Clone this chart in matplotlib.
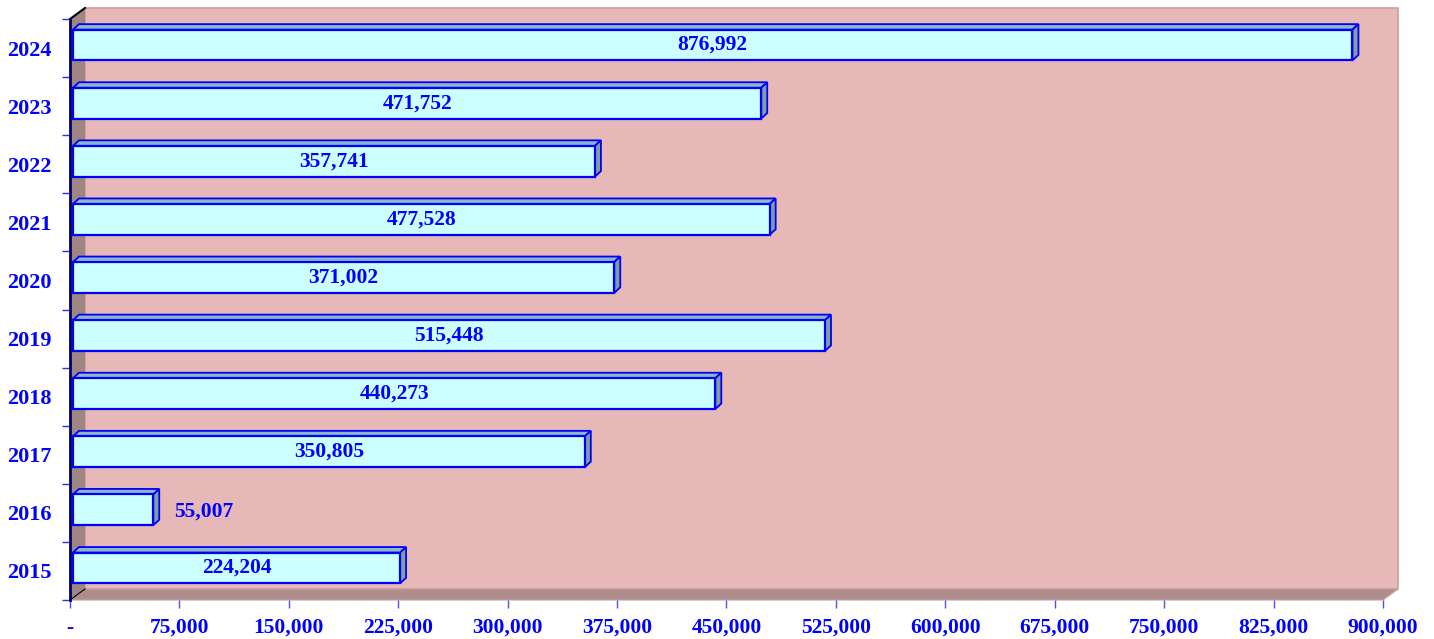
import matplotlib
matplotlib.use("Agg")
import matplotlib.pyplot as plt
from matplotlib.patches import Polygon

years = ["2015", "2016", "2017", "2018", "2019", "2020", "2021", "2022", "2023", "2024"]
values = [224204, 55007, 350805, 440273, 515448, 371002, 477528, 357741, 471752, 876992]
x_ticks = [0, 75000, 150000, 225000, 300000, 375000, 450000, 525000, 600000,
           675000, 750000, 825000, 900000]

W, H = 1434, 639
fig = plt.figure(figsize=(W / 100, H / 100), dpi=100)
ax_l, ax_b, ax_w, ax_h = 70, 39, 1313, 581
ax = fig.add_axes([ax_l / W, ax_b / H, ax_w / W, ax_h / H])
XMAX = x_ticks[-1]
n = len(years)
ax.set_xlim(0, XMAX)
ax.set_ylim(-0.5, n - 0.5)

px_x = XMAX / ax_w      # data units per pixel in x
px_y = n / ax_h         # data units per pixel in y

# walls
wdx, wdy = 15 * px_x, 11 * px_y
back = Polygon([(wdx, -0.5 + wdy), (XMAX + wdx, -0.5 + wdy), (XMAX + wdx, n - 0.5 + wdy),
                (wdx, n - 0.5 + wdy)], closed=True, facecolor="#E6B8B7",
               edgecolor="#D49C9B", lw=1.2, clip_on=False, zorder=0.5)
floor = Polygon([(0, -0.5), (XMAX, -0.5), (XMAX + wdx, -0.5 + wdy), (wdx, -0.5 + wdy)],
                closed=True, facecolor="#AF8D8C", edgecolor="#C9A09F", lw=0.8,
                clip_on=False, zorder=0.6)
left = Polygon([(0, -0.5), (0, n - 0.5), (wdx, n - 0.5 + wdy), (wdx, -0.5 + wdy)],
               closed=True, facecolor="#A08585", edgecolor="none", clip_on=False, zorder=0.6)
for p in (back, floor, left):
    ax.add_patch(p)
ax.plot([0, wdx], [n - 0.5, n - 0.5 + wdy], color="black", lw=1.5, clip_on=False, zorder=0.7)
ax.plot([0, wdx], [-0.5, -0.5 + wdy], color="black", lw=0.8, clip_on=False, zorder=0.7)

# bars
sx, sy = 3 * px_x, 3 * px_y
bdx, bdy = 6 * px_x, 5.5 * px_y
bh = 0.53
ys = list(range(n))
for i, v in enumerate(values):
    yc = ys[i] + sy
    yb, yt = yc - bh / 2, yc + bh / 2
    x0, x1 = sx, sx + v
    top = Polygon([(x0, yt), (x1, yt), (x1 + bdx, yt + bdy), (x0 + bdx, yt + bdy)],
                  closed=True, facecolor="#8DB8C2", edgecolor="#0000FF", lw=1.3, zorder=2)
    side = Polygon([(x1, yb), (x1, yt), (x1 + bdx, yt + bdy), (x1 + bdx, yb + bdy)],
                   closed=True, facecolor="#7F9E9E", edgecolor="#0000FF", lw=1.3, zorder=2)
    ax.add_patch(top)
    ax.add_patch(side)
ax.barh([y + sy for y in ys], values, left=sx, height=bh, color="#CCFFFF",
        edgecolor="#0000FF", linewidth=1.6, zorder=3)

font = dict(family="Liberation Serif", weight="bold", color="#0000FF", size=15.5)
for i, v in enumerate(values):
    yc = ys[i] + sy
    if v < 0.1 * XMAX:
        ax.text(sx + v + bdx + 15 * px_x, yc - 2 * px_y, f"{v:,}", ha="left", va="center",
                zorder=4, **font)
    else:
        ax.text(sx + v / 2, yc, f"{v:,}", ha="center", va="center", zorder=4, **font)

# axes styling
for s in ("top", "right", "bottom"):
    ax.spines[s].set_visible(False)
ax.spines["left"].set_color("#000066")
ax.spines["left"].set_linewidth(2)
ax.spines["left"].set_zorder(5)
ax.patch.set_visible(False)

ax.set_yticks(ys)
ax.set_yticklabels(years)
ax.set_yticks([y - 0.5 for y in range(n + 1)], minor=True)
ax.tick_params(axis="y", which="major", length=0, pad=13.5)
ax.tick_params(axis="y", which="minor", length=6, color="#3030E0", width=1)
ax.set_xticks(x_ticks)
ax.set_xticklabels(["-" if t == 0 else f"{t:,}" for t in x_ticks])
ax.tick_params(axis="x", which="major", length=6, color="#5050E0", width=1, pad=7)
for lab in ax.get_xticklabels():
    lab.set_fontfamily("Liberation Serif")
    lab.set_fontweight("bold")
    lab.set_color("#0000FF")
    lab.set_fontsize(15.5)
for lab in ax.get_yticklabels():
    lab.set_fontfamily("Liberation Serif")
    lab.set_fontweight("bold")
    lab.set_color("#0000FF")
    lab.set_fontsize(16)

fig.savefig("out.png", dpi=100)
